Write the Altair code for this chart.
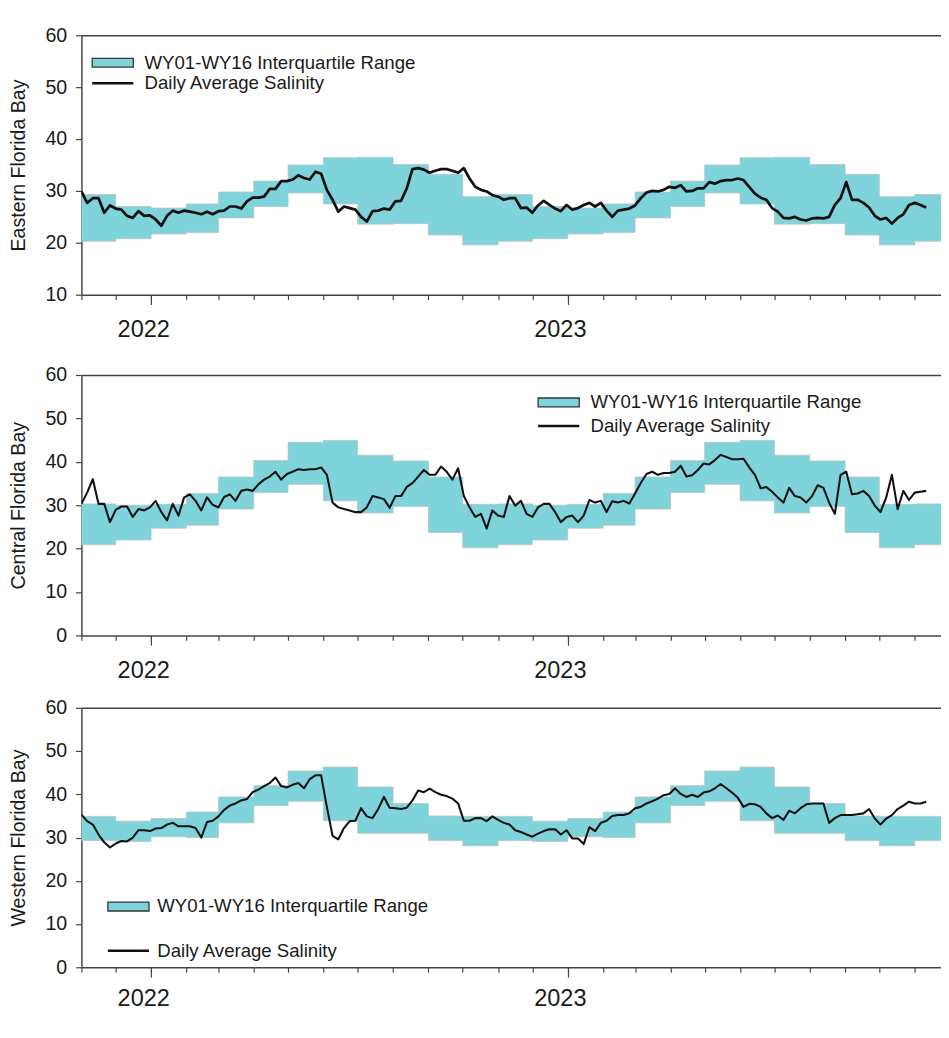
import altair as alt
import pandas as pd

FONT = "Liberation Sans"
BAND_LABEL = "WY01-WY16 Interquartile Range"
LINE_LABEL = "Daily Average Salinity"
TEAL = "#7fd4dc"

# Daily average salinity sampled every 5 days starting 2021-11-01
eastern = [29.9, 27.7, 28.6, 28.6, 25.8, 27.2, 26.6, 26.4, 25.2, 24.8, 26.1, 25.2, 25.3, 24.5, 23.3,
           25.2, 26.2, 25.8, 26.2, 26.0, 25.8, 25.5, 26.0, 25.5, 26.1, 26.2, 27.0, 27.0, 26.6, 28.0,
           28.7, 28.7, 28.9, 30.4, 30.4, 31.9, 31.9, 32.2, 33.0, 32.5, 32.2, 33.7, 33.3, 30.2, 28.3,
           26.0, 27.0, 26.7, 26.4, 25.0, 24.1, 26.1, 26.2, 26.6, 26.4, 28.0, 28.1, 30.5, 34.2, 34.4,
           34.1, 33.5, 33.9, 34.2, 34.2, 33.9, 33.5, 34.4, 32.4, 30.8, 30.2, 29.9, 29.2, 28.9, 28.3,
           28.6, 28.6, 26.7, 26.8, 25.8, 27.2, 28.1, 27.3, 26.6, 26.1, 27.3, 26.4, 26.7, 27.3, 27.7,
           27.0, 27.7, 26.2, 25.0, 26.2, 26.4, 26.6, 27.2, 28.6, 29.7, 30.0, 29.9, 30.2, 30.8, 30.6,
           31.1, 29.9, 30.0, 30.5, 30.5, 31.7, 31.4, 31.9, 32.1, 32.1, 32.4, 32.1, 30.8, 29.5, 28.7,
           28.3, 26.7, 26.0, 24.8, 24.7, 25.0, 24.5, 24.3, 24.7, 24.8, 24.7, 25.0, 27.3, 28.6, 31.7,
           28.3, 28.3, 27.7, 26.8, 25.2, 24.5, 24.8, 23.7, 24.8, 25.5, 27.3, 27.7, 27.3, 26.8]
central = [30.3, 32.9, 36.0, 30.3, 30.3, 26.1, 28.9, 29.7, 29.7, 27.3, 29.1, 28.8, 29.5, 31.0, 28.4,
           26.5, 30.3, 27.6, 31.8, 32.5, 31.0, 28.8, 31.8, 30.1, 29.5, 31.9, 32.5, 31.0, 33.3, 33.6,
           33.3, 34.8, 35.9, 36.6, 37.7, 35.9, 37.2, 37.7, 38.3, 38.1, 38.3, 38.3, 38.7, 37.0, 30.6,
           29.5, 29.1, 28.8, 28.4, 28.4, 29.5, 32.1, 31.8, 31.4, 29.4, 32.1, 32.1, 34.2, 35.1, 36.6,
           38.1, 37.0, 37.0, 38.9, 37.7, 35.9, 38.5, 32.1, 29.5, 27.3, 28.0, 24.6, 28.8, 27.6, 27.3,
           32.1, 29.9, 31.0, 28.0, 27.3, 29.5, 30.3, 30.3, 28.4, 26.1, 27.3, 27.6, 26.1, 27.6, 31.2,
           30.6, 31.0, 28.4, 30.9, 30.6, 31.0, 30.4, 32.7, 35.1, 37.2, 37.7, 37.0, 37.4, 37.4, 37.7,
           39.1, 36.6, 36.9, 38.1, 39.6, 39.4, 40.4, 41.6, 41.1, 40.6, 40.6, 40.7, 38.7, 37.0, 33.9,
           34.2, 33.1, 31.8, 30.6, 34.0, 32.1, 31.8, 30.6, 32.1, 34.6, 34.0, 30.6, 28.0, 37.0, 37.7,
           32.5, 32.7, 33.3, 32.1, 29.9, 28.4, 31.8, 37.0, 29.1, 33.3, 31.2, 32.9, 33.1, 33.3]
western = [35.3, 33.8, 33.0, 30.7, 28.9, 27.7, 28.6, 29.2, 29.1, 30.0, 31.7, 31.7, 31.5, 32.1, 32.2,
           33.0, 33.4, 32.6, 32.6, 32.6, 32.2, 30.0, 33.6, 33.9, 34.9, 36.4, 37.4, 37.9, 38.6, 38.9,
           40.5, 41.1, 41.9, 42.6, 43.9, 41.9, 41.6, 42.2, 42.6, 41.4, 43.5, 44.4, 44.4, 37.1, 30.4,
           29.6, 32.2, 33.8, 33.9, 36.8, 34.9, 34.5, 36.6, 39.4, 36.9, 36.8, 36.6, 36.9, 38.6, 40.9,
           40.5, 41.3, 40.5, 39.9, 39.6, 39.0, 37.9, 33.9, 33.9, 34.5, 34.5, 33.8, 34.9, 34.1, 33.4,
           33.0, 31.7, 31.3, 30.7, 30.2, 30.9, 31.5, 31.9, 31.9, 30.7, 31.7, 29.8, 29.8, 28.5, 32.4,
           31.5, 33.4, 33.9, 35.0, 35.2, 35.2, 35.6, 36.8, 37.1, 37.9, 38.4, 39.0, 39.8, 40.1, 41.4,
           40.1, 39.4, 39.9, 39.4, 40.4, 40.7, 41.4, 42.4, 41.4, 40.4, 39.2, 37.1, 37.8, 37.7, 37.1,
           35.6, 34.5, 35.1, 34.1, 36.2, 35.6, 36.8, 37.7, 37.9, 37.9, 37.9, 33.4, 34.5, 35.2, 35.2,
           35.2, 35.4, 35.6, 36.6, 34.4, 33.0, 34.4, 35.2, 36.6, 37.4, 38.3, 37.9, 37.9, 38.3]

# Monthly WY01-WY16 interquartile range, months Nov..Oct
east_q1 = [20.3, 20.8, 21.7, 22.0, 24.8, 27.0, 29.6, 27.5, 23.6, 23.7, 21.5, 19.6]
east_q3 = [29.3, 27.0, 26.7, 27.5, 29.8, 31.9, 35.0, 36.4, 36.5, 35.1, 33.2, 28.9]
cent_q1 = [20.9, 22.0, 24.7, 25.4, 29.1, 32.9, 34.8, 31.0, 28.2, 29.7, 23.7, 20.2]
cent_q3 = [30.3, 30.0, 30.2, 32.7, 36.5, 40.3, 44.5, 44.9, 41.5, 40.2, 36.5, 30.2]
west_q1 = [29.3, 29.1, 30.2, 30.0, 33.4, 37.4, 38.4, 33.9, 31.0, 31.0, 29.3, 28.1]
west_q3 = [34.9, 33.8, 34.4, 35.9, 39.4, 42.0, 45.4, 46.3, 41.7, 37.9, 35.0, 34.9]

line_dates = pd.date_range("2021-11-01", periods=len(eastern), freq="5D").strftime("%Y-%m-%d")
band_dates = pd.date_range("2021-11-01", "2023-12-01", freq="MS")

X_DOMAIN = [alt.DateTime(year=2021, month=11, date=1, utc=True),
            alt.DateTime(year=2023, month=11, date=24, utc=True)]
YEAR_TICKS = [alt.DateTime(year=2022, month=1, date=1, utc=True),
              alt.DateTime(year=2023, month=1, date=1, utc=True)]
AX = dict(domainColor="#444", tickColor="#444", domainWidth=1.5, tickWidth=1.2, grid=False, title=None)
PLOT_W = 878


def panel(values, q1, q3, title, ymin, height, lw, lx, ly1, ly2, loff, xpad):
    idx = [(d.month - 11) % 12 for d in band_dates]
    band_df = pd.DataFrame({
        "date": band_dates.strftime("%Y-%m-%d"),
        "q1": [q1[i] for i in idx],
        "q3": [q3[i] for i in idx],
        "band": BAND_LABEL,
    })
    line_df = pd.DataFrame({"date": list(line_dates), "salinity": values, "series": LINE_LABEL})

    y_axis = alt.Axis(title=title, values=list(range(ymin, 61, 10)), grid=False,
                      labelFontSize=20, titleFontSize=20, titleFontWeight="normal",
                      tickSize=6, labelPadding=9, titlePadding=17,
                      domainColor="#444", tickColor="#444", domainWidth=1.5, tickWidth=1.2)
    y_scale = alt.Scale(domain=[ymin, 60], nice=False, zero=False)

    # monthly minor ticks + bottom axis line
    area = alt.Chart(band_df).mark_area(
        interpolate="step-after", clip=True, stroke="#b9c3c4", strokeWidth=0.8
    ).encode(
        x=alt.X("date:T", scale=alt.Scale(type="utc", domain=X_DOMAIN),
                axis=alt.Axis(orient="bottom", tickCount=alt.TimeIntervalStep(interval="month", step=1),
                              labels=False, tickSize=5, **AX)),
        y=alt.Y("q1:Q", scale=y_scale, axis=y_axis),
        y2="q3:Q",
        fill=alt.Fill("band:N", scale=alt.Scale(domain=[BAND_LABEL], range=[TEAL]),
                      legend=alt.Legend(orient="none", legendX=lx, legendY=ly1, title=None, padding=0,
                                        symbolType="M-4.2,-0.9H4.2V0.9H-4.2Z", symbolSize=100,
                                        symbolStrokeColor="#333", symbolStrokeWidth=1.3,
                                        symbolFillColor=TEAL, symbolOpacity=1,
                                        labelFontSize=19, labelOffset=loff, labelLimit=400)),
    )
    # year ticks with labels
    line = alt.Chart(line_df).mark_line(clip=True, strokeWidth=lw, strokeJoin="round").encode(
        x=alt.X("date:T", axis=alt.Axis(orient="bottom", values=YEAR_TICKS, format="%Y", formatType="utc",
                                        tickSize=10, domain=False, labelFontSize=24, labelPadding=xpad,
                                        labelOffset=-8, labelFlush=False, labelOverlap=False, **AX)),
        y=alt.Y("salinity:Q", scale=y_scale, axis=y_axis),
        stroke=alt.Stroke("series:N", scale=alt.Scale(domain=[LINE_LABEL], range=["#111111"]),
                          legend=alt.Legend(orient="none", legendX=lx, legendY=ly2, title=None, padding=0,
                                            symbolType="M-4.2,0H4.2", symbolSize=100,
                                            symbolStrokeWidth=2.6, labelFontSize=19, labelOffset=loff,
                                            labelLimit=400)),
    )
    # top frame line
    frame = alt.Chart(band_df).mark_rule(opacity=0, clip=True).encode(
        x=alt.X("date:T", axis=alt.Axis(orient="top", labels=False, ticks=False, **AX)),
    )
    return alt.layer(area, line, frame).properties(width=PLOT_W, height=height)


p1 = panel(eastern, east_q1, east_q3, "Eastern Florida Bay", 10, 265, 2.8, 22.5, 18.5, 39.5, 23, 14)
p2 = panel(central, cent_q1, cent_q3, "Central Florida Bay", 0, 266, 2.1, 478, 18.5, 42.5, 23, 14)
p3 = panel(western, west_q1, west_q3, "Western Florida Bay", 0, 265, 2.1, 38.5, 193.5, 238.5, 20, 10)

top = alt.vconcat(p1, p2, spacing=24).resolve_scale(fill="independent", stroke="independent")
chart = alt.vconcat(top, p3, spacing=16).resolve_scale(
    fill="independent", stroke="independent"
).properties(
    padding={"left": 0, "top": 7, "right": 0, "bottom": 0}
).configure_view(stroke=None).configure_axis(
    labelFont=FONT, titleFont=FONT, labelColor="#1a1a1a", titleColor="#1a1a1a"
).configure_legend(labelFont=FONT, labelColor="#1a1a1a")

chart.save("out.html", embed_options={"renderer": "svg", "actions": False})
